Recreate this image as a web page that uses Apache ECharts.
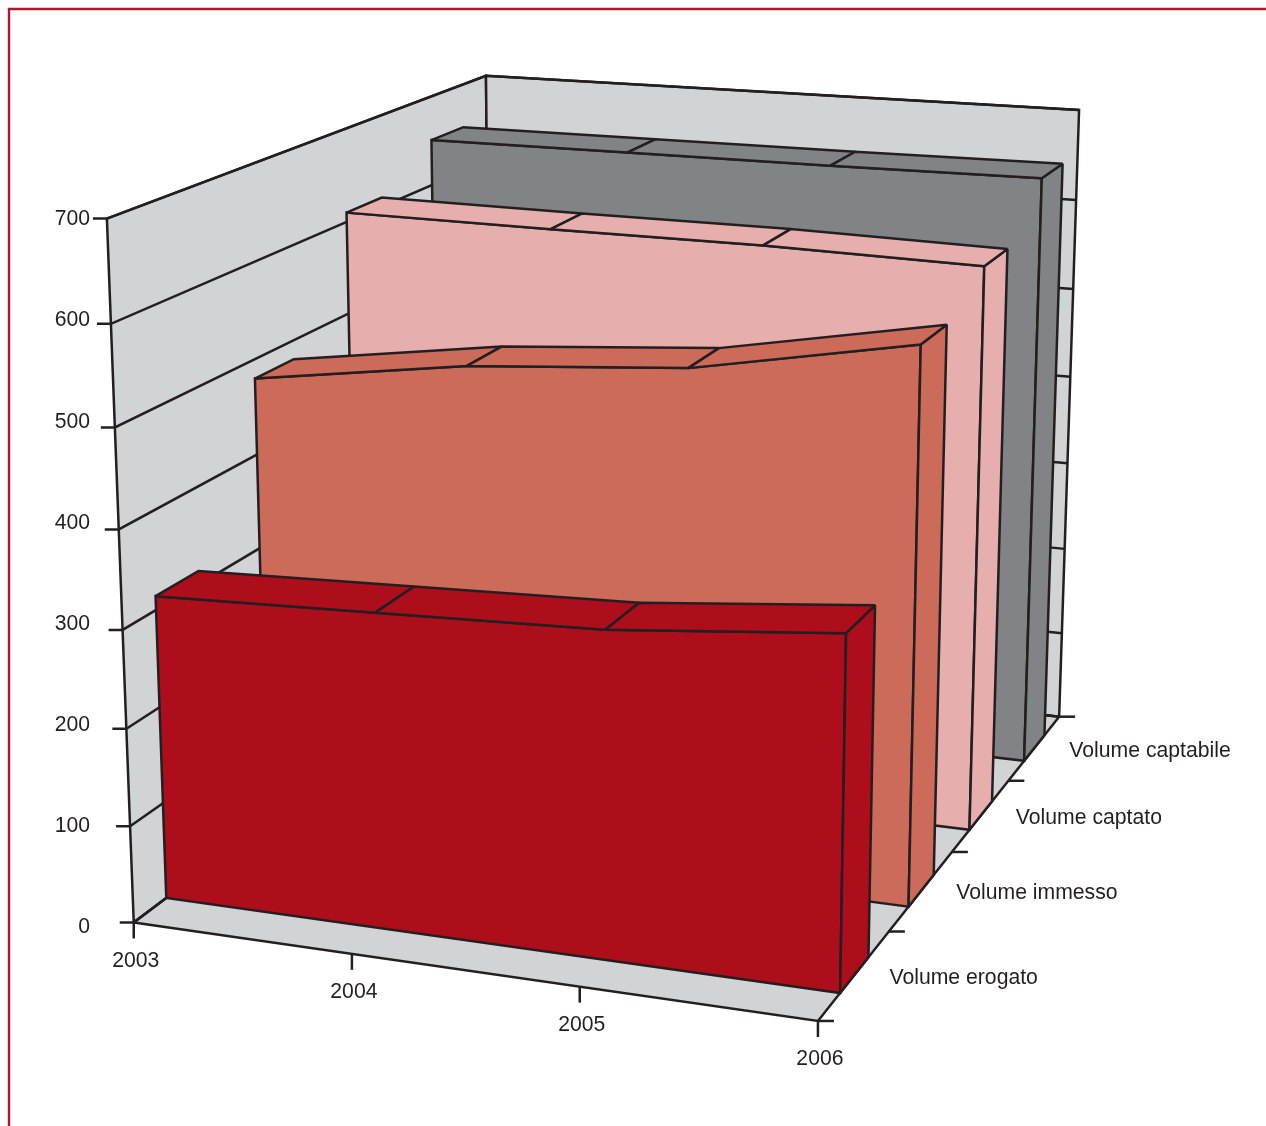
<!DOCTYPE html>
<html><head><meta charset="utf-8"><style>html,body{margin:0;background:#fff}#chart{width:1266px;height:1126px}</style>
<script src="https://cdn.jsdelivr.net/npm/echarts@6/dist/echarts.min.js"></script></head><body><div id="chart"></div><script>
// Volumes per year, one slab per series
const years = ['2003', '2004', '2005', '2006'];
const volumeErogato = [314, 322, 330, 352];
const volumeImmesso = [480, 512, 529, 571];
const volumeCaptato = [610, 608, 607, 602];
const volumeCaptabile = [651, 651, 651, 652];
const valueTicks = [0, 100, 200, 300, 400, 500, 600, 700];

// Drawn back to front
const slabs = [
  { name: 'Volume captabile', band: 3, values: volumeCaptabile, color: '#828386' },
  { name: 'Volume captato', band: 2, values: volumeCaptato, color: '#e6afad' },
  { name: 'Volume immesso', band: 1, values: volumeImmesso, color: '#cc6b5a' },
  { name: 'Volume erogato', band: 0, values: volumeErogato, color: '#ae0d1c' }
];

const INK = '#231f20', WALL = '#d1d3d4', LINE = 2.5;
const FONT = { fontFamily: '"Liberation Sans", Arial, sans-serif', fontSize: 21.2, fill: INK };
const GRID = { left: 90, top: 219.5, width: 1000, height: 708 };
const SLAB_NEAR = 0.30, SLAB_FAR = 0.70, BANDS = 4;

// Camera: maps the unit box (x along years, y up the values, z into the depth) onto the canvas
const CAMERA = [
  [0.632008, -0.032366, 0.472862, 0.133744],
  [0.033389, -0.71513, -0.117704, 0.92244],
  [-0.063799, -0.05162, 0.233268, 1]
];
function project(x, y, z) {
  const w = CAMERA[2][0] * x + CAMERA[2][1] * y + CAMERA[2][2] * z + CAMERA[2][3];
  return [
    1000 * (CAMERA[0][0] * x + CAMERA[0][1] * y + CAMERA[0][2] * z + CAMERA[0][3]) / w,
    1000 * (CAMERA[1][0] * x + CAMERA[1][1] * y + CAMERA[1][2] * z + CAMERA[1][3]) / w
  ];
}
// Takes a position from the chart's own axes and places it at depth z
function place(api, year, value, z) {
  const p = api.coord([year, value]);
  return project((p[0] - GRID.left) / GRID.width, (GRID.top + GRID.height - p[1]) / GRID.height, z);
}

const face = (points, fill) => ({
  type: 'polygon',
  shape: { points },
  style: { fill, stroke: INK, lineWidth: LINE, lineJoin: 'miter', miterLimit: 2 }
});
const stroke = (points) => ({
  type: 'polyline',
  shape: { points },
  style: { fill: 'none', stroke: INK, lineWidth: LINE, lineCap: 'butt', lineJoin: 'miter', miterLimit: 2 }
});
const label = (text, x, y, align) => ({
  type: 'text',
  style: Object.assign({ text, x, y, align, verticalAlign: 'middle' }, FONT)
});
const shift = (p, dx, dy) => [p[0] + dx, p[1] + dy];

// Walls, floor, grid lines, axis ticks and the year and series labels
function renderFrame(params, api) {
  const first = years[0], last = years[years.length - 1], top = valueTicks[valueTicks.length - 1];
  const children = [
    face([place(api, first, 0, 0), place(api, first, top, 0), place(api, first, top, 1), place(api, first, 0, 1)], WALL),
    face([place(api, first, 0, 1), place(api, first, top, 1), place(api, last, top, 1), place(api, last, 0, 1)], WALL),
    face([place(api, first, 0, 0), place(api, last, 0, 0), place(api, last, 0, 1), place(api, first, 0, 1)], WALL)
  ];
  valueTicks.forEach((v) => {
    const front = place(api, first, v, 0);
    children.push(stroke([shift(front, -14, 0), front, place(api, first, v, 1), place(api, last, v, 1)]));
  });
  years.forEach((year) => {
    const p = place(api, year, 0, 0);
    children.push(stroke([p, shift(p, 0, 16)]));
    children.push(label(year, p[0] + 2, p[1] + 38.5, 'center'));
  });
  for (let i = 0; i <= BANDS; i++) {
    const p = place(api, last, 0, i / BANDS);
    children.push(stroke([p, shift(p, 16, 0)]));
  }
  slabs.forEach((slab) => {
    const p = place(api, last, 0, (slab.band + (SLAB_NEAR + SLAB_FAR) / 2) / BANDS);
    children.push(label(slab.name, p[0] + 35, p[1] + 3, 'left'));
  });
  return { type: 'group', children };
}

// One slab of the 3D area: front face, end face and the top faces between years
function renderSlab(slab) {
  return (params, api) => {
    if (params.dataIndex !== 0) return null;
    const near = (slab.band + SLAB_NEAR) / BANDS, far = (slab.band + SLAB_FAR) / BANDS;
    const n = years.length - 1;
    const frontTop = years.map((y, i) => place(api, y, slab.values[i], near));
    const backTop = years.map((y, i) => place(api, y, slab.values[i], far));
    const children = [
      face([place(api, years[0], 0, near)].concat(frontTop, [place(api, years[n], 0, near)]), slab.color),
      face([place(api, years[n], 0, near), frontTop[n], backTop[n], place(api, years[n], 0, far)], slab.color)
    ];
    for (let i = 0; i < n; i++) {
      children.push(face([frontTop[i], frontTop[i + 1], backTop[i + 1], backTop[i]], slab.color));
    }
    return { type: 'group', children };
  };
}

const chart = echarts.init(document.getElementById('chart'), null, { renderer: 'canvas' });
chart.setOption({
  animation: false,
  backgroundColor: '#ffffff',
  graphic: [{
    type: 'polyline',
    silent: true,
    shape: { points: [[9, 1126], [9, 9], [1266, 9]] },
    style: { fill: 'none', stroke: '#b5132b', lineWidth: 2.4 }
  }],
  grid: Object.assign({ containLabel: false }, GRID),
  xAxis: {
    type: 'category',
    data: years,
    boundaryGap: false,
    axisLine: { show: false },
    axisTick: { show: false },
    axisLabel: { show: false },
    splitLine: { show: false }
  },
  yAxis: {
    type: 'value',
    min: 0,
    max: 700,
    interval: 100,
    axisLine: { show: false },
    axisTick: { show: false },
    splitLine: { show: false },
    axisLabel: {
      margin: 0,
      color: INK,
      fontSize: FONT.fontSize,
      fontFamily: FONT.fontFamily
    }
  },
  series: [{
    type: 'custom',
    name: 'frame',
    silent: true,
    data: [[years[0], 0]],
    renderItem: renderFrame
  }].concat(slabs.map((slab) => ({
    type: 'custom',
    name: slab.name,
    silent: true,
    data: slab.values.map((v, i) => [years[i], v]),
    renderItem: renderSlab(slab)
  })))
});
</script></body></html>
